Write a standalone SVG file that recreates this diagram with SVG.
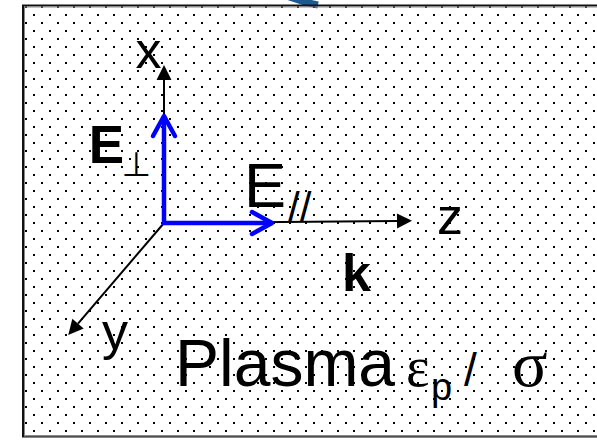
<svg xmlns="http://www.w3.org/2000/svg" width="597" height="440" viewBox="0 0 597 440">
  <style>
    .sans { font-family: "Liberation Sans", Arial, sans-serif; fill: #000; }
    .serif { font-family: "Liberation Serif", "Times New Roman", serif; fill: #000; }
    .axis { stroke: #000; stroke-width: 2; fill: none; }
    .field { stroke: #0000ff; stroke-width: 4.5; fill: none; }
  </style>
  <defs>
    <pattern id="dots" patternUnits="userSpaceOnUse" x="0" y="0" width="16" height="16">
      <rect x="9" y="6" width="2" height="2" fill="#000"/>
      <rect x="1" y="14" width="2" height="2" fill="#000"/>
    </pattern>
    <marker id="arrowBlack" markerUnits="userSpaceOnUse" markerWidth="16" markerHeight="16" refX="0" refY="7.5" orient="auto" overflow="visible">
      <path d="M0,0 L15,7.5 L0,15 Z" fill="#000"/>
    </marker>
    <marker id="arrowBlue" markerUnits="userSpaceOnUse" markerWidth="1" markerHeight="1" refX="0" refY="0" orient="auto" overflow="visible">
      <path d="M-20,-11 L0,0 L-20,11" fill="none" stroke="#0000ff" stroke-width="4.5" stroke-linecap="round" stroke-linejoin="round"/>
    </marker>
  </defs>

  <rect width="597" height="440" fill="#fff"/>

  <!-- partially visible blue curved arrow above the box -->
  <path id="incoming" d="M282,-6 Q298,1 318,5" fill="none" stroke="#1d5a94" stroke-width="7"/>

  <g id="plasma">
    <rect x="22" y="5" width="600" height="432" fill="url(#dots)"/>
    <rect x="23" y="5.5" width="600" height="431" fill="none" stroke="#111" stroke-width="2"/>
    <rect x="24.5" y="7" width="600" height="429" fill="none" stroke="#8a8a8a" stroke-width="1"/>
  </g>

  <g id="connectors">
    <path id="axis-x" class="axis" d="M164,223 V80" marker-end="url(#arrowBlack)"/>
    <path id="axis-z" class="axis" d="M164,223 L397,221" marker-end="url(#arrowBlack)"/>
    <path id="axis-y" class="axis" d="M164,223 L78,323.6" marker-end="url(#arrowBlack)"/>
    <path id="E-perp" class="field" d="M164,224 V116" marker-end="url(#arrowBlue)"/>
    <path id="E-par" class="field" d="M162,223 H272" marker-end="url(#arrowBlue)"/>
  </g>

  <g id="labels">
    <text id="label-x" class="sans" x="135.5" y="68" font-size="52">x</text>
    <text id="label-y" class="sans" x="102" y="348.7" font-size="52">y</text>
    <text id="label-z" class="sans" x="437" y="234" font-size="52">z</text>
    <text id="label-k" class="sans" x="342" y="290.7" font-size="52" font-weight="bold">k</text>
    <text id="label-Eperp" class="sans" font-size="53" font-weight="bold"><tspan x="88.8" y="163.3">E</tspan><tspan x="121.6" y="175.5" font-size="34" font-weight="normal" font-family="'DejaVu Sans', sans-serif">⊥</tspan></text>
    <text id="label-Epar" class="sans" font-size="63"><tspan x="244" y="207.3">E</tspan><tspan x="288" y="221.5" font-size="42">//</tspan></text>
    <text id="label-plasma" class="sans" font-size="66"><tspan x="175" y="386">Plasma</tspan><tspan x="406" y="386" class="serif" font-size="56">ε</tspan><tspan x="431" y="400" font-size="38">p</tspan><tspan x="464" y="386" font-size="46">/</tspan><tspan x="512" y="386" class="serif" font-size="66">σ</tspan></text>
  </g>
</svg>
